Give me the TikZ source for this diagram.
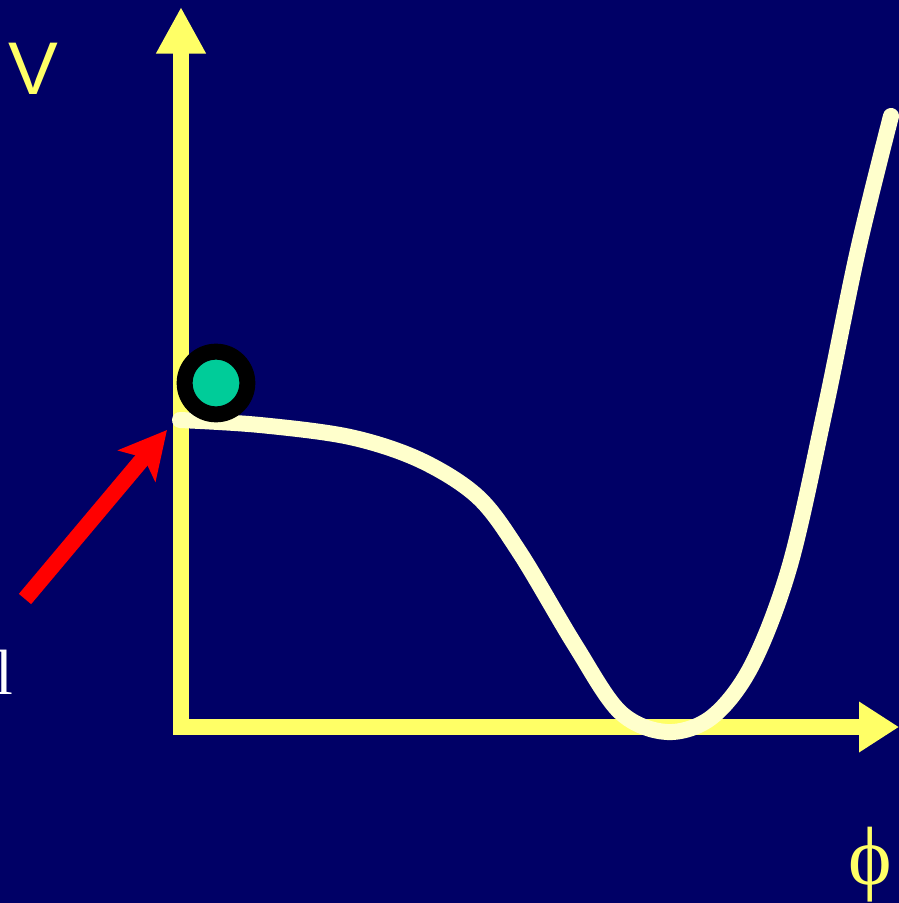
\documentclass[tikz,border=0pt]{standalone}
\usepackage{fontspec}
\setmainfont{Liberation Serif}
\newfontfamily\labelsans{Liberation Sans}
\usetikzlibrary{arrows.meta,positioning}
\definecolor{navybg}{RGB}{0,0,102}
\definecolor{axisyellow}{RGB}{255,255,102}
\definecolor{potcream}{RGB}{255,255,204}
\definecolor{ballgreen}{RGB}{0,204,153}
\begin{document}
\begin{tikzpicture}[
  x=0.75pt, y=-0.75pt,
  axis/.style={draw=axisyellow, line width=12pt, line join=miter},
  potential/.style={draw=potcream, line width=12pt, line cap=round, line join=round},
  ball/.style={circle, draw=black, line width=12pt, fill=ballgreen, minimum size=47pt, inner sep=0pt},
  pointer/.style={draw=red, line width=12pt, -{Stealth[length=35pt, width=36pt, inset=8pt]}},
]
\fill[navybg] (0,0) rectangle (899,903);
\useasboundingbox (0,0) rectangle (899,903);
% axes
\coordinate (origin) at (181,727);
\coordinate (ytip) at (181,7);
\coordinate (xtip) at (899,727);
\draw[axis, {Triangle[length=35pt, width=35pt]}-{Triangle[length=30pt, width=36pt]}]
  (ytip) -- (origin) -- (xtip);
% potential curve
\draw[potential] plot[smooth, tension=0.55] coordinates {
  (180,420) (260,425) (350,437) (420,460) (478,497) (520,553) (575,645)
  (620,712) (667,732) (712,717) (752,665) (790,565) (825,410) (858,250) (891,116)};
% field at the top of the plateau
\node[ball] (field) at (216,383) {};
% pointer to the start
\coordinate (pointertail) at (25,599);
\coordinate (pointertip) at (167,430);
\draw[pointer] (pointertail) -- (pointertip);
% labels
\node[text=axisyellow, font=\labelsans\fontsize{56}{60}\selectfont, inner sep=0pt] (vlabel) at (33,69) {V};
\node[text=axisyellow, font=\fontsize{62}{66}\selectfont, inner sep=0pt, anchor=base] (philabel) at (870,884) {ϕ};
\node[text=white, font=\fontsize{48}{52}\selectfont, inner sep=0pt, anchor=base east] (startlabel) at (14,694) {l};
\end{tikzpicture}
\end{document}
